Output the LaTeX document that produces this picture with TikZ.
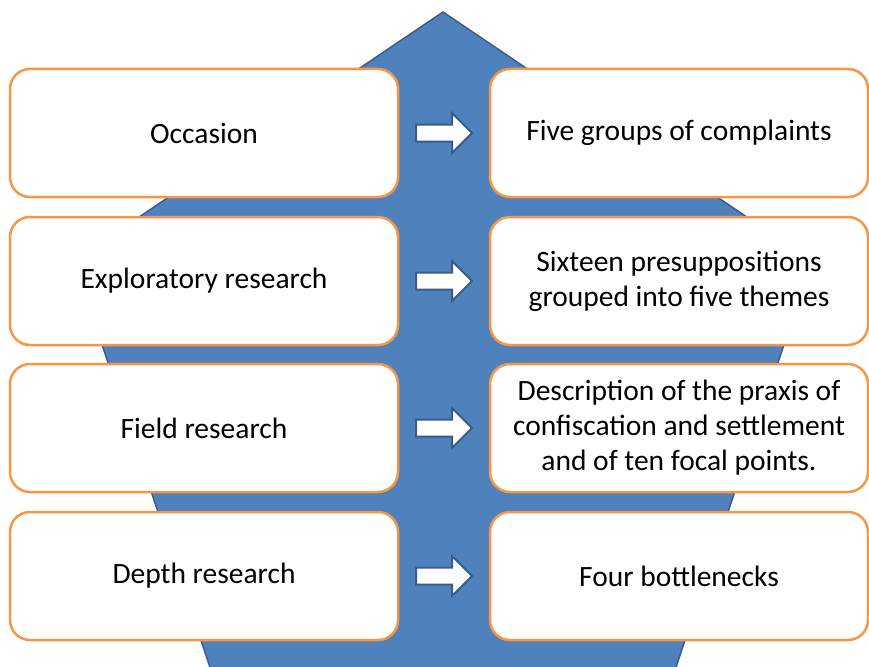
\documentclass[tikz,border=0pt]{standalone}
\usepackage{fontspec}
\setmainfont{Carlito}
\usetikzlibrary{calc}

\definecolor{shaftblue}{RGB}{79,129,189}
\definecolor{edgeblue}{RGB}{56,93,138}
\definecolor{boxorange}{RGB}{247,150,70}

\begin{document}
\begin{tikzpicture}[x=1pt,y=-1pt,
  stage/.style={draw=boxorange,line width=2.5pt,fill=white,rounded corners=20pt,
    minimum height=128pt,align=center,font=\fontsize{29.5}{35}\selectfont},
  leftstage/.style={stage,minimum width=388pt},
  rightstage/.style={stage,minimum width=378pt},
  blockarrow/.style={draw=edgeblue,line width=2pt,fill=white,line join=miter}]

\useasboundingbox (0,0) rectangle (869,666);

%big arrow in the back
\begin{scope}
\clip (0,0) rectangle (869,666);
\draw[edgeblue,line width=1.5pt,fill=shaftblue] (443,12) -- (812,261) -- (665,700) -- (221,700) -- (74,261) -- cycle;
\end{scope}

%left column
\node[leftstage] (occ)   at (204,133) {Occasion};
\node[leftstage] (expl)  at (204,281) {Exploratory research};
\node[leftstage] (field) at (204,428) {Field research};
\node[leftstage] (depth) at (204,576) {Depth research};

%right column
\node[rightstage] (compl)  at (679,133) {Five groups of complaints};
\node[rightstage] (presup) at (679,281) {Sixteen presuppositions\\grouped into five themes};
\node[rightstage] (praxis) at (679,428) {Description of the praxis of\\confiscation and settlement\\and of ten focal points.};
\node[rightstage] (bottl)  at (679,576) {Four bottlenecks};

%small arrows
\coordinate (a1) at ($(occ.east)!0.5!(compl.west)$);
\coordinate (a2) at ($(expl.east)!0.5!(presup.west)$);
\coordinate (a3) at ($(field.east)!0.5!(praxis.west)$);
\coordinate (a4) at ($(depth.east)!0.5!(bottl.west)$);

\draw[blockarrow] (a1) ++(-28,-8.5) -- ++(36,0) -- ++(0,-11.5) -- ++(20,20) -- ++(-20,20) -- ++(0,-11.5) -- ++(-36,0) -- cycle;
\draw[blockarrow] (a2) ++(-28,-8.5) -- ++(36,0) -- ++(0,-11.5) -- ++(20,20) -- ++(-20,20) -- ++(0,-11.5) -- ++(-36,0) -- cycle;
\draw[blockarrow] (a3) ++(-28,-8.5) -- ++(36,0) -- ++(0,-11.5) -- ++(20,20) -- ++(-20,20) -- ++(0,-11.5) -- ++(-36,0) -- cycle;
\draw[blockarrow] (a4) ++(-28,-8.5) -- ++(36,0) -- ++(0,-11.5) -- ++(20,20) -- ++(-20,20) -- ++(0,-11.5) -- ++(-36,0) -- cycle;

\end{tikzpicture}
\end{document}
